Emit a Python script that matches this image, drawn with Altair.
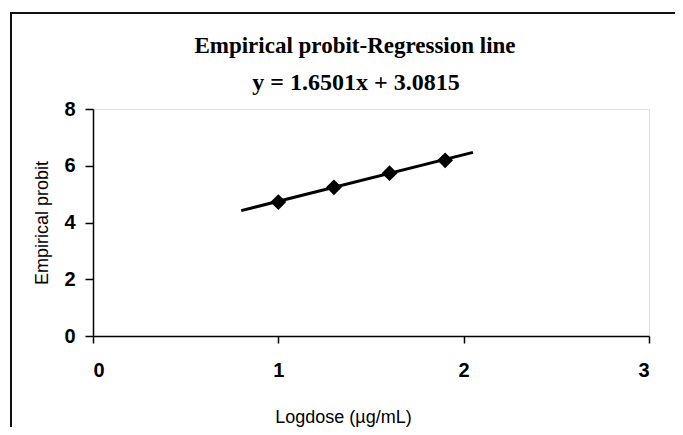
import altair as alt
import pandas as pd

logdose = [1.0, 1.3, 1.6, 1.9]
probit = [4.72, 5.24, 5.74, 6.19]

# Regression line end points
line_x = [0.8, 2.05]
line_y = [4.42, 6.47]

x_ticks = [0, 1, 2, 3]
y_ticks = [0, 2, 4, 6, 8]

title_text = "Empirical probit-Regression line"
subtitle_text = "y = 1.6501x + 3.0815"

pts = pd.DataFrame({"x": logdose, "y": probit})
reg = pd.DataFrame({"x": line_x, "y": line_y})
one = pd.DataFrame({"k": [0]})

W, H = 556, 227

xs = alt.Scale(domain=[0, 3], nice=False, zero=False)
ys = alt.Scale(domain=[0, 8], nice=False, zero=False)

x_axis = alt.Axis(
    values=x_ticks, format="d", title="Logdose (µg/mL)", grid=False,
    domainColor="black", domainWidth=1.5, tickColor="black", tickWidth=1.5, tickSize=7,
    labelFont="Liberation Sans", labelFontSize=20, labelFontWeight="bold", labelColor="black",
    labelPadding=17,
    titleFont="Liberation Sans", titleFontSize=18, titleFontWeight="normal", titleColor="black",
    titleX=250, titleY=86, titleBaseline="alphabetic", titleAlign="center",
)
y_axis = alt.Axis(
    values=y_ticks, format="d", title="Empirical probit", grid=False,
    domainColor="black", domainWidth=1.5, tickColor="black", tickWidth=1.5, tickSize=8,
    labelFont="Liberation Sans", labelFontSize=20, labelFontWeight="bold", labelColor="black",
    labelPadding=10,
    titleFont="Liberation Sans", titleFontSize=18, titleFontWeight="normal", titleColor="black",
    titleX=-46, titleY=H / 2, titleAngle=270, titleBaseline="alphabetic", titleAlign="center",
)

line = alt.Chart(reg).mark_line(color="black", strokeWidth=3).encode(
    x=alt.X("x:Q", scale=xs, axis=x_axis),
    y=alt.Y("y:Q", scale=ys, axis=y_axis),
)
points = alt.Chart(pts).mark_point(shape="diamond", filled=True, color="black", size=250, opacity=1).encode(
    x=alt.X("x:Q", scale=xs),
    y=alt.Y("y:Q", scale=ys),
)

border_left = alt.Chart(one).mark_rule(color="#111", strokeWidth=2).encode(
    x=alt.value(-82), y=alt.value(-96), y2=alt.value(340)
)
border_top = alt.Chart(one).mark_rule(color="#111", strokeWidth=2).encode(
    x=alt.value(-83), x2=alt.value(600), y=alt.value(-96)
)

title_mark = alt.Chart(one).mark_text(
    font="Liberation Serif", fontSize=23, fontWeight="bold", color="black",
    align="center", baseline="alphabetic",
).encode(x=alt.value(262), y=alt.value(-56), text=alt.value(title_text))

subtitle_mark = alt.Chart(one).mark_text(
    font="Liberation Serif", fontSize=24, fontWeight="bold", color="black",
    align="center", baseline="alphabetic",
).encode(x=alt.value(263), y=alt.value(-19), text=alt.value(subtitle_text))

chart = alt.layer(border_left, border_top, title_mark, subtitle_mark, line, points).properties(
    width=W, height=H,
    autosize=alt.AutoSizeParams(type="none"),
    padding={"left": 85, "top": 101, "right": 26, "bottom": 91},
).configure_view(stroke=None).configure(background="white")

chart.save("out.html", embed_options={"renderer": "svg", "actions": False})
